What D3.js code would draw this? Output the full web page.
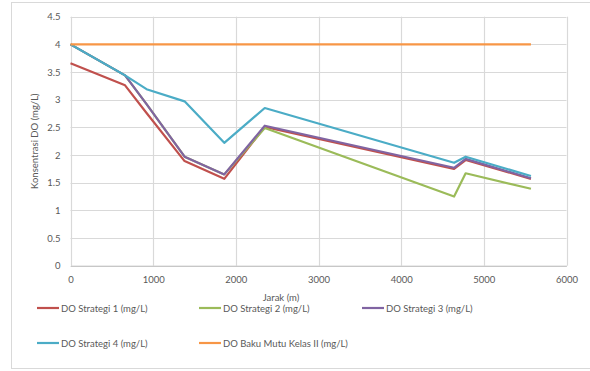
<!DOCTYPE html>
<html>
<head>
<meta charset="utf-8">
<script src="https://cdn.jsdelivr.net/npm/d3@7"></script>
<style>
  html, body { margin: 0; padding: 0; background: #fff; }
  svg text { font-family: Lato, "Liberation Sans", sans-serif; fill: #595959; }
</style>
</head>
<body>
<div id="chart"></div>
<script>
// Jarak (m) along the river
const jarak = [0, 660, 920, 1380, 1860, 2350, 4640, 4780, 5570];

// DO values (mg/L) per strategy
const strategi1 = [3.66, 3.26, 2.76, 1.89, 1.57, 2.51, 1.75, 1.91, 1.57];
const strategi2 = [4.0, 3.44, 2.92, 1.97, 1.65, 2.49, 1.25, 1.67, 1.39];
const strategi3 = [4.0, 3.44, 2.92, 1.97, 1.65, 2.53, 1.77, 1.93, 1.58];
const strategi4 = [4.0, 3.44, 3.19, 2.97, 2.22, 2.85, 1.86, 1.97, 1.62];
const bakuMutu  = [4, 4, 4, 4, 4, 4, 4, 4, 4];

const seriesNames = [
  "DO Strategi 1 (mg/L)",
  "DO Strategi 2 (mg/L)",
  "DO Strategi 3 (mg/L)",
  "DO Strategi 4 (mg/L)",
  "DO Baku Mutu Kelas II (mg/L)"
];
const seriesColors = ["#c0504d", "#9bbb59", "#8064a2", "#4bacc6", "#f79646"];

const xTicks = [0, 1000, 2000, 3000, 4000, 5000, 6000];
const yTicks = [0, 0.5, 1, 1.5, 2, 2.5, 3, 3.5, 4, 4.5];

const width = 590, height = 371;
const margin = { top: 16.7, right: 23.5, bottom: 105.3, left: 70.5 };

const svg = d3.select("#chart").append("svg")
  .attr("width", width)
  .attr("height", height);

// outer chart border
svg.append("rect")
  .attr("x", 11.5).attr("y", 2.5)
  .attr("width", 600).attr("height", 366)
  .attr("fill", "#fff")
  .attr("stroke", "#d9d9d9");

const xScale = d3.scaleLinear().domain([0, 6000])
  .range([margin.left, width - margin.right]);
const yScale = d3.scaleLinear().domain([0, 4.5])
  .range([height - margin.bottom, margin.top]);

// gridlines
const grid = svg.append("g").attr("class", "grid");
grid.selectAll("line.v").data(xTicks).enter().append("line")
  .attr("x1", d => Math.round(xScale(d)) + 0.5)
  .attr("x2", d => Math.round(xScale(d)) + 0.5)
  .attr("y1", yScale(4.5)).attr("y2", yScale(0))
  .attr("stroke", "#d9d9d9").attr("stroke-width", 1.2);
grid.selectAll("line.h").data(yTicks).enter().append("line")
  .attr("y1", d => Math.round(yScale(d)) + 0.5)
  .attr("y2", d => Math.round(yScale(d)) + 0.5)
  .attr("x1", xScale(0)).attr("x2", xScale(6000))
  .attr("stroke", "#d9d9d9").attr("stroke-width", 1.2);

// axes (labels only, gridlines draw the lines)
svg.append("g")
  .attr("transform", `translate(0,${yScale(0)})`)
  .call(d3.axisBottom(xScale).tickValues(xTicks).tickFormat(d3.format("d")).tickSize(0).tickPadding(11))
  .call(g => g.select(".domain").attr("stroke", "#bfbfbf"))
  .call(g => g.selectAll("text").attr("font-size", 9.5).attr("fill", "#595959")
    .attr("font-family", "Lato, 'Liberation Sans', sans-serif"));

svg.append("g")
  .attr("transform", `translate(${xScale(0)},0)`)
  .call(d3.axisLeft(yScale).tickValues(yTicks).tickFormat(d3.format("")).tickSize(0).tickPadding(10))
  .call(g => g.select(".domain").remove())
  .call(g => g.selectAll("text").attr("font-size", 9.5).attr("fill", "#595959")
    .attr("font-family", "Lato, 'Liberation Sans', sans-serif"));

// axis titles
svg.append("text")
  .attr("x", 281).attr("y", 301)
  .attr("text-anchor", "middle")
  .attr("font-size", 9.5)
  .text("Jarak (m)");

svg.append("text")
  .attr("transform", `translate(38,${(yScale(0) + yScale(4.5)) / 2}) rotate(-90)`)
  .attr("text-anchor", "middle")
  .attr("font-size", 9.5)
  .text("Konsentrasi DO (mg/L)");

// series
const allSeries = [strategi1, strategi2, strategi3, strategi4, bakuMutu];
const line = d3.line()
  .x((d, i) => xScale(jarak[i]))
  .y(d => yScale(d));

svg.append("g").attr("class", "lines")
  .selectAll("path").data(allSeries).enter().append("path")
  .attr("d", d => line(d))
  .attr("fill", "none")
  .attr("stroke", (d, i) => seriesColors[i])
  .attr("stroke-width", 2.2)
  .attr("stroke-linejoin", "round");

// legend
const legendPos = [
  { x: 37, y: 308 }, { x: 199, y: 308 }, { x: 362, y: 308 },
  { x: 37, y: 343 }, { x: 199, y: 343 }
];
const legend = svg.append("g").attr("class", "legend")
  .selectAll("g").data(seriesNames).enter().append("g")
  .attr("transform", (d, i) => `translate(${legendPos[i].x},${legendPos[i].y})`);
legend.append("line")
  .attr("x1", 0).attr("x2", 22)
  .attr("stroke", (d, i) => seriesColors[i])
  .attr("stroke-width", 2.2);
legend.append("text")
  .attr("x", 24).attr("y", 3.5)
  .attr("font-size", 9.5)
  .text(d => d);
</script>
</body>
</html>
